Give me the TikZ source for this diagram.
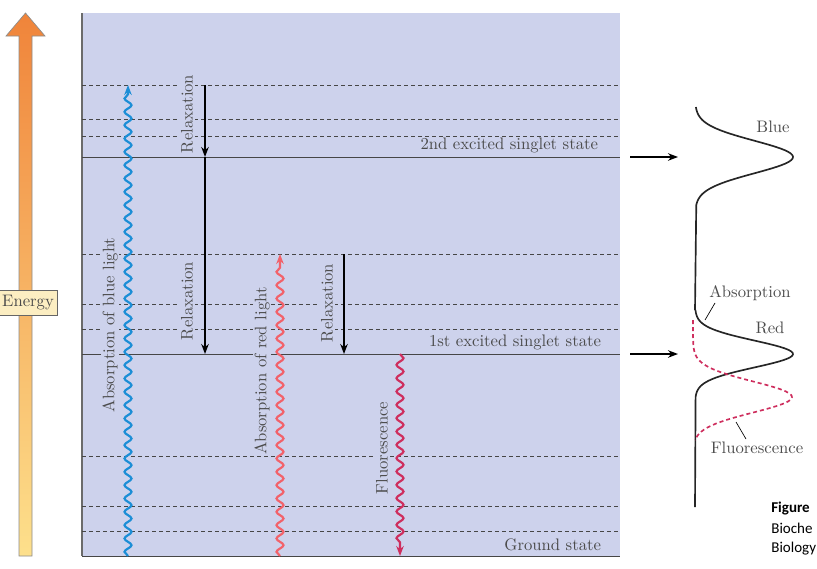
\documentclass[tikz,border=0pt]{standalone}
\usepackage{fontspec}
\newfontfamily\notefont{Carlito}
\usetikzlibrary{arrows.meta,decorations.pathmorphing}
\definecolor{panelblue}{RGB}{205,210,236}
\definecolor{linegray}{RGB}{70,70,70}
\definecolor{textgray}{RGB}{75,75,75}
\definecolor{bluelight}{RGB}{28,142,214}
\definecolor{redlight}{RGB}{242,98,106}
\definecolor{fluored}{RGB}{206,46,94}
\definecolor{energytop}{RGB}{240,132,58}
\definecolor{energybot}{RGB}{253,224,140}
\definecolor{energybox}{RGB}{252,238,194}
\begin{document}
\begin{tikzpicture}
	[x=0.6pt, y=-0.6pt,
	every node/.style={font=\fontsize{10}{12}\selectfont, text=textgray},
	level/.style={draw=linegray, line width=0.6pt},
	sublevel/.style={draw=linegray, line width=0.6pt, dash pattern=on 2.4pt off 1.8pt},
	relax/.style={draw=black, line width=1pt, -{Stealth[length=6pt,width=4.5pt]}},
	photon/.style={line width=1.3pt, decorate,
		decoration={snake, amplitude=2.1pt, segment length=8pt, post length=5pt},
		-{Stealth[length=6pt,width=4.5pt]}},
	vlabel/.style={rotate=90, fill=panelblue, inner sep=1pt},
	spectrum/.style={draw=black!85, line width=1pt},
	leader/.style={draw=black, line width=0.4pt},]
	\useasboundingbox (0,0) rectangle (817,568);

	% panel
	\fill[panelblue] (82,13) rectangle (620,556);
	\draw[linegray!80, line width=1.2pt] (82,13) -- (82,556);

	% levels
	\foreach \y in {85,119,136,254,304,329,456,506,531}
		\draw[sublevel] (82,\y) -- (620,\y);
	\foreach \y in {157,354,556}
		\draw[level] (82,\y) -- (620,\y);
	\node[anchor=south east, inner sep=1pt] (s2) at (600,155) {2nd excited singlet state};
	\node[anchor=south east, inner sep=1pt] (s1) at (603,352) {1st excited singlet state};
	\node[anchor=south east, inner sep=1pt] (s0) at (603,553) {Ground state};

	% energy axis
	\shade[top color=energytop, bottom color=energybot, draw=black!45, line width=0.4pt]
		(19,556) -- (19,36) -- (6,36) -- (25.5,13) -- (45,36) -- (32,36) -- (32,556) -- cycle;
	\node[fill=energybox, draw=black!60, line width=0.4pt, minimum width=35pt, minimum height=15pt, inner sep=1pt] (energy) at (28,303) {Energy};

	% transitions
	\coordinate (bluebot) at (128,556);
	\coordinate (bluetop) at (128,85);
	\coordinate (redbot) at (280,556);
	\coordinate (redtop) at (280,254);
	\coordinate (fluotop) at (400,354);
	\coordinate (fluobot) at (400,556);
	\coordinate (ra) at (205,85);
	\coordinate (rb) at (205,157);
	\coordinate (rc) at (205,354);
	\coordinate (rd) at (344,254);
	\coordinate (re) at (344,354);
	\draw[photon, draw=bluelight, color=bluelight] (bluebot) -- (bluetop);
	\draw[photon, draw=redlight, color=redlight] (redbot) -- (redtop);
	\draw[photon, draw=fluored, color=fluored] (fluotop) -- (fluobot);
	\draw[relax] (ra) -- (rb);
	\draw[relax] (rb) -- (rc);
	\draw[relax] (rd) -- (re);
	\node[vlabel] (lblue) at (110,325) {Absorption of blue light};
	\node[vlabel] (lred) at (262,371) {Absorption of red light};
	\node[vlabel] (lfluo) at (382,448) {Fluorescence};
	\node[vlabel] (lrelaxa) at (187,114) {Relaxation};
	\node[vlabel] (lrelaxb) at (187,301) {Relaxation};
	\node[vlabel] (lrelaxc) at (327,303) {Relaxation};

	% spectra
	\coordinate (fa) at (630,157);
	\coordinate (fb) at (678,157);
	\coordinate (ga) at (630,354);
	\coordinate (gb) at (678,354);
	\draw[relax] (fa) -- (fb);
	\draw[relax] (ga) -- (gb);
	\draw[spectrum] plot[domain=107:205, samples=60] ({695+98*exp(-((\x-157)/23)^2)}, \x)
		-- (695,310)
		plot[domain=310:397, samples=60] ({695+98*exp(-((\x-354)/19)^2)}, \x)
		-- (695,507);
	\draw[spectrum, draw=fluored, line width=1pt, dash pattern=on 2.4pt off 1.8pt]
		plot[domain=320:440, samples=60] ({693+99*exp(-((\x-397)/22)^2)}, \x);
	\node[text=black!70] (lblue2) at (773,127) {Blue};
	\node[text=black!70] (labs) at (750,293) {Absorption};
	\node[text=black!70] (lred2) at (770,328) {Red};
	\node[text=black!70] (lfluo2) at (757,448) {Fluorescence};
	\coordinate (absa) at (715,303);
	\coordinate (absb) at (705,320);
	\coordinate (fla) at (736,422);
	\coordinate (flb) at (746,439);
	\draw[leader] (absa) -- (absb);
	\draw[leader] (fla) -- (flb);

	% caption fragment
	\begin{scope}
		\clip (760,490) rectangle (817,568);
		\node[anchor=west, text=black, font=\notefont\fontsize{9}{11}\selectfont\bfseries, inner sep=0pt] (figa) at (771,508) {Figure};
		\node[anchor=west, text=black, font=\notefont\fontsize{9}{11}\selectfont, inner sep=0pt] (figb) at (771,528) {Bioche};
		\node[anchor=west, text=black, font=\notefont\fontsize{9}{11}\selectfont, inner sep=0pt] (figc) at (771,549) {Biology};
	\end{scope}
\end{tikzpicture}
\end{document}
